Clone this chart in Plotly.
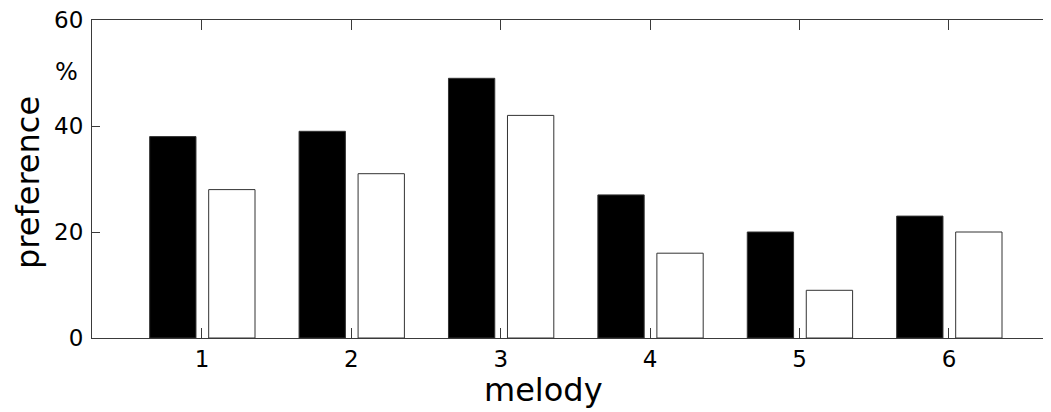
import plotly.graph_objects as go

melodies = [1, 2, 3, 4, 5, 6]
tick_labels = ["1", "2", "3", "4", "5", "6"]
series_black = [38, 39, 49, 27, 20, 23]
series_white = [28, 31, 42, 16, 9, 20]
y_ticks = [0, 20, 40, 60]

FONT = "DejaVu Sans, Liberation Sans, Arial, sans-serif"
LINE = "#3a3a3a"

# screen-pixel geometry of the plot area (page has an 8px body margin)
PX_L, PX_R, PX_T, PX_B = 92, 1051, 20, 338
BODY = 8


def px(xp):
    return (xp - PX_L) / (PX_R - PX_L)


def py(yp):
    return (PX_B - yp) / (PX_B - PX_T)


fig = go.Figure()
fig.add_trace(go.Bar(x=melodies, y=series_black, width=0.31, offset=-0.35,
                     marker=dict(color="black", line=dict(color="#333333", width=1)),
                     showlegend=False))
fig.add_trace(go.Bar(x=melodies, y=series_white, width=0.31, offset=0.045,
                     marker=dict(color="white", line=dict(color="#333333", width=1)),
                     showlegend=False))

fig.update_layout(
    width=1051 - BODY, height=412 - BODY,
    margin=dict(l=PX_L - BODY, r=0, t=PX_T - BODY, b=412 - PX_B, autoexpand=False),
    plot_bgcolor="white", paper_bgcolor="white",
    barmode="overlay",
    font=dict(family=FONT, color="black", size=23),
    xaxis=dict(range=[0.264, 6.683], tickvals=melodies, ticktext=tick_labels,
               ticks="inside", ticklen=10, tickcolor=LINE, tickwidth=1,
               showline=True, linecolor=LINE, linewidth=1, mirror="ticks",
               showgrid=False, zeroline=False, automargin=False,
               tickfont=dict(size=23)),
    yaxis=dict(range=[0, 60], tickvals=y_ticks, ticks="inside", ticklen=8,
               tickcolor=LINE, tickwidth=1, showline=True, linecolor=LINE,
               linewidth=1, showgrid=False, zeroline=False, automargin=False,
               ticklabelstandoff=3, ticklabeloverflow="allow",
               tickfont=dict(size=23)),
    annotations=[
        dict(text="%", x=px(66), y=py(72), xref="paper", yref="paper",
             xanchor="center", yanchor="middle", showarrow=False,
             font=dict(size=24, family=FONT)),
        dict(text="melody", x=px(543), y=py(390), xref="paper", yref="paper",
             xanchor="center", yanchor="middle", showarrow=False,
             font=dict(size=32, family=FONT)),
        dict(text="preference", x=px(28), y=py(183), xref="paper", yref="paper",
             xanchor="center", yanchor="middle", showarrow=False, textangle=-90,
             font=dict(size=32, family=FONT)),
    ],
)

fig.write_html("out.html")
